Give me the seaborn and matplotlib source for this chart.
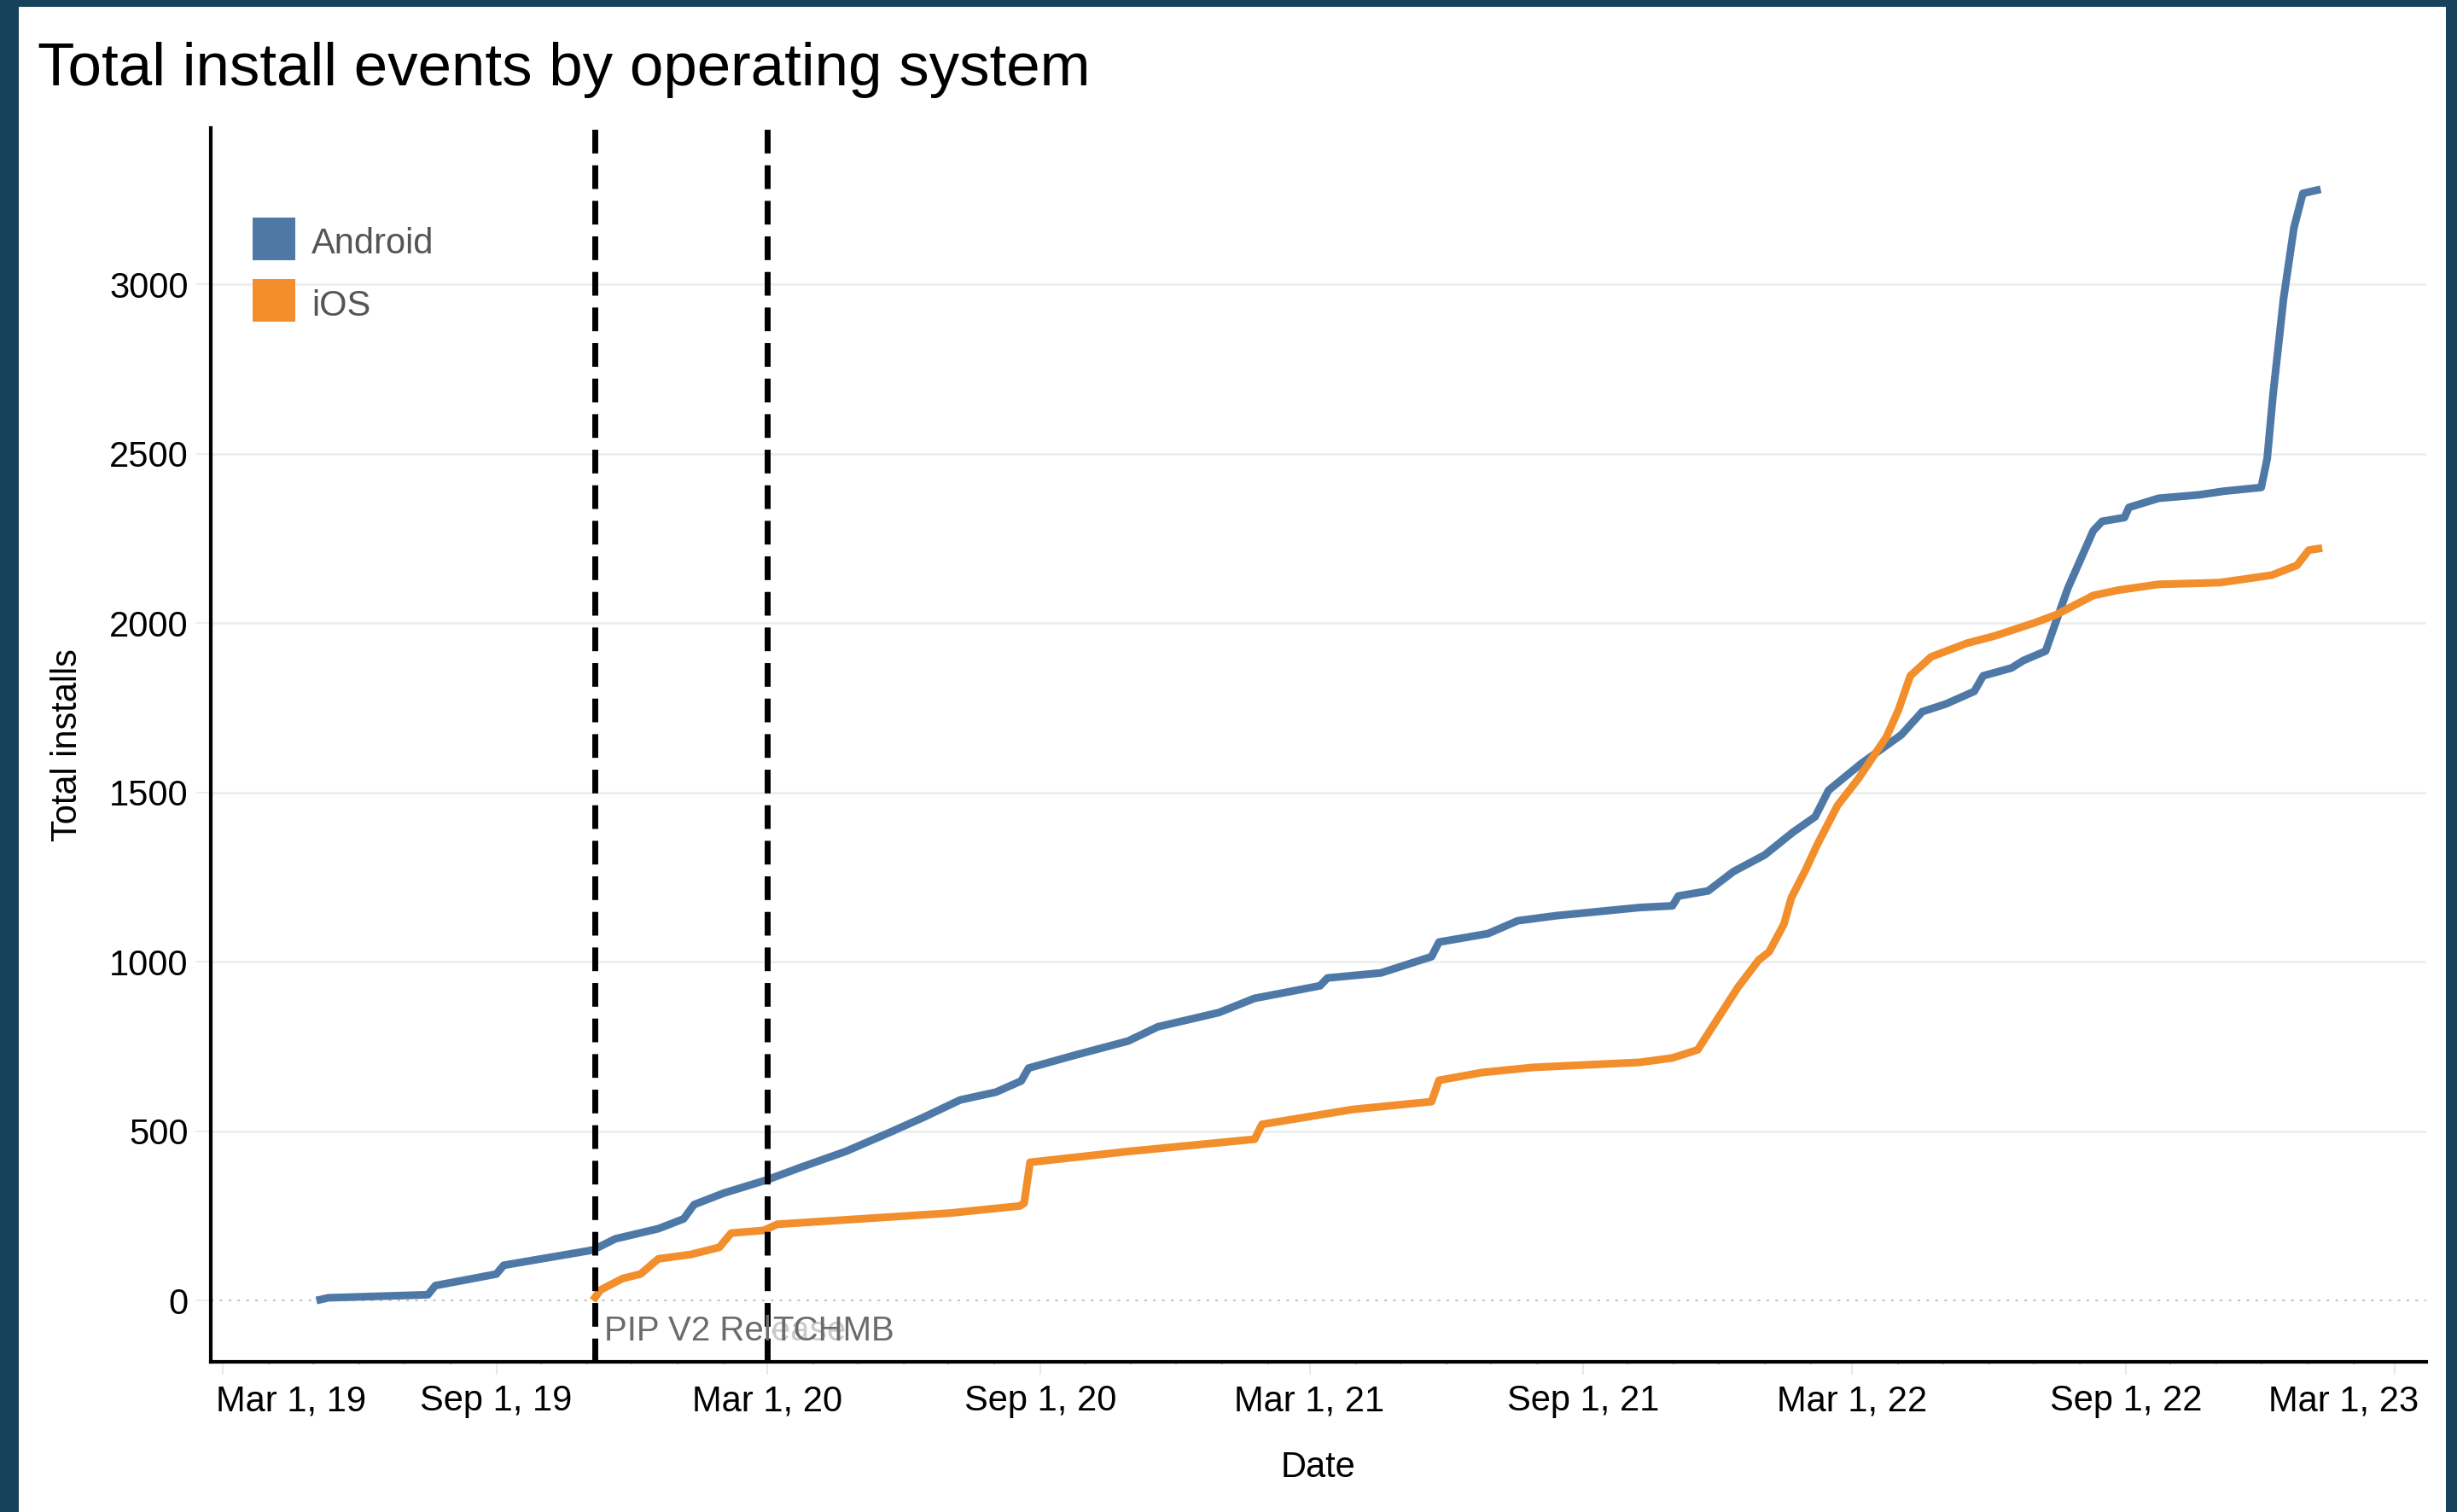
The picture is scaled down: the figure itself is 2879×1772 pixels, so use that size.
import pandas as pd
import seaborn as sns
import matplotlib.pyplot as plt
import matplotlib.dates as mdates
from matplotlib.patches import Patch, Rectangle
from matplotlib.ticker import FuncFormatter
from matplotlib.transforms import ScaledTranslation

# values
android_dates = ['2019-05-03', '2019-05-11', '2019-07-17', '2019-07-22', '2019-09-01', '2019-09-06',
                 '2019-11-05', '2019-11-20', '2019-12-19', '2020-01-05', '2020-01-12', '2020-02-01',
                 '2020-03-01', '2020-03-25', '2020-04-23', '2020-05-22', '2020-06-14', '2020-07-09',
                 '2020-08-02', '2020-08-19', '2020-08-24', '2020-09-24', '2020-10-30', '2020-11-19',
                 '2020-12-30', '2021-01-23', '2021-02-10', '2021-03-08', '2021-03-13', '2021-04-18',
                 '2021-05-22', '2021-05-27', '2021-06-29', '2021-07-19', '2021-08-14', '2021-10-09',
                 '2021-10-31', '2021-11-04', '2021-11-24', '2021-12-11', '2022-01-01', '2022-01-20',
                 '2022-02-04', '2022-02-13', '2022-03-07', '2022-04-03', '2022-04-17', '2022-05-03',
                 '2022-05-22', '2022-05-28', '2022-06-16', '2022-06-24', '2022-07-09', '2022-07-13',
                 '2022-07-24', '2022-08-10', '2022-08-16', '2022-08-31', '2022-09-03', '2022-09-23',
                 '2022-10-20', '2022-11-06', '2022-12-01', '2022-12-05', '2022-12-09', '2022-12-16',
                 '2022-12-23', '2022-12-29', '2023-01-10']
android_installs = [0, 8, 17, 44, 78, 104, 149, 182, 212, 241,
                    283, 317, 356, 395, 440, 495, 540, 592, 615, 648,
                    686, 724, 766, 808, 850, 892, 907, 929, 952, 967,
                    1015, 1058, 1083, 1121, 1136, 1160, 1165, 1194, 1209, 1266,
                    1315, 1382, 1428, 1506, 1585, 1670, 1738, 1761, 1798, 1844,
                    1867, 1889, 1917, 1967, 2103, 2272, 2300, 2311, 2341, 2368,
                    2378, 2389, 2400, 2485, 2676, 2957, 3167, 3268, 3280]

ios_dates = ['2019-11-05', '2019-11-10', '2019-11-25', '2019-12-07', '2019-12-19', '2020-01-10',
             '2020-01-29', '2020-02-06', '2020-02-28', '2020-03-08', '2020-07-02', '2020-08-18',
             '2020-08-21', '2020-08-25', '2020-10-30', '2021-01-23', '2021-01-28', '2021-03-30',
             '2021-05-22', '2021-05-27', '2021-06-25', '2021-07-29', '2021-10-09', '2021-10-31',
             '2021-11-17', '2021-11-29', '2021-12-14', '2021-12-28', '2022-01-04', '2022-01-14',
             '2022-01-19', '2022-01-29', '2022-02-05', '2022-02-19', '2022-03-05', '2022-03-24',
             '2022-04-01', '2022-04-09', '2022-04-23', '2022-05-17', '2022-06-05', '2022-07-02',
             '2022-07-16', '2022-08-10', '2022-08-27', '2022-09-23', '2022-11-03', '2022-12-08',
             '2022-12-25', '2023-01-02', '2023-01-11']
ios_installs = [0, 31, 65, 78, 123, 136, 157, 199, 207, 225,
                258, 279, 287, 408, 440, 476, 520, 564, 587, 650,
                673, 688, 703, 716, 740, 822, 924, 1005, 1029, 1111,
                1189, 1275, 1342, 1461, 1540, 1664, 1743, 1844, 1900, 1940,
                1962, 2001, 2024, 2081, 2097, 2114, 2119, 2141, 2170, 2215,
                2221]

release_dates = ['2019-11-06', '2020-03-01']
release_labels = ['PIP V2 Release', 'TCHMB']

os_names = ['Android', 'iOS']
os_colors = {'Android': '#4e79a7', 'iOS': '#f28e2b'}

df = pd.concat([
    pd.DataFrame({'date': pd.to_datetime(android_dates), 'installs': android_installs, 'os': 'Android'}),
    pd.DataFrame({'date': pd.to_datetime(ios_dates), 'installs': ios_installs, 'os': 'iOS'}),
])

sns.set_style('white')
plt.rcParams['font.family'] = ['Liberation Sans', 'DejaVu Sans']

W, H = 2879, 1772
fig = plt.figure(figsize=(W / 100, H / 100), dpi=100)
fig.patch.set_facecolor('#17425b')
# white card inside the dark frame
fig.add_artist(Rectangle((22 / W, 0), (2866 - 22) / W, 1 - 8 / H, transform=fig.transFigure,
                         facecolor='white', edgecolor='none', zorder=-5))

ax = fig.add_axes([247 / W, 1 - 1596 / H, (2843 - 247) / W, (1596 - 150) / H])
ax.set_facecolor('white')

sns.lineplot(data=df, x='date', y='installs', hue='os', palette=os_colors,
             estimator=None, linewidth=6.5, legend=False, ax=ax, zorder=3)
for ln in ax.get_lines():
    ln.set_solid_joinstyle('round')
    ln.set_solid_capstyle('butt')

ax.set_xlim(pd.Timestamp('2019-02-21'), pd.Timestamp('2023-03-22'))
ax.set_ylim(-181, 3461)

# y axis
ax.set_yticks(range(0, 3001, 500))
ax.yaxis.grid(True, color='#eeeeee', linewidth=2)
ax.get_ygridlines()[0].set_visible(False)
ax.axhline(0, color='#c4c4c4', linewidth=1.5, linestyle=(0, (1.5, 3.5)), zorder=1)

# x axis
ax.xaxis.set_major_locator(mdates.MonthLocator(bymonth=[3, 9], bymonthday=1))
ax.xaxis.set_minor_locator(mdates.MonthLocator())
ax.xaxis.set_major_formatter(FuncFormatter(
    lambda v, pos: '{:%b} {}, {:%y}'.format(mdates.num2date(v), mdates.num2date(v).day, mdates.num2date(v))))

ax.tick_params(axis='x', which='major', length=11, width=1.5, color='#e8e8e8',
               labelsize=30, pad=8, labelcolor='black', direction='out', bottom=True)
ax.tick_params(axis='x', which='minor', length=3, width=1.5, color='#e0e0e0', bottom=True)
ax.tick_params(axis='y', length=13, width=1.5, color='#eeeeee', labelsize=30, pad=6,
               labelcolor='black', left=True)

for side in ['top', 'right']:
    ax.spines[side].set_visible(False)
for side in ['left', 'bottom']:
    ax.spines[side].set_color('black')
    ax.spines[side].set_linewidth(3)

ax.set_xlabel('Date', fontsize=30, color='black')
ax.set_ylabel('Total installs', fontsize=30, color='black')
ax.xaxis.set_label_coords(0.5, -0.072)
ax.yaxis.set_label_coords(-0.057, 0.5)

# keep first and last date labels inside the pane
fig.canvas.draw()
xlabels = [t for t in ax.get_xticklabels() if t.get_text()]
xlabels[0].set_ha('left')
xlabels[0].set_transform(xlabels[0].get_transform() + ScaledTranslation(-8 / 100, 0, fig.dpi_scale_trans))
xlabels[-1].set_ha('right')
xlabels[-1].set_transform(xlabels[-1].get_transform() + ScaledTranslation(28 / 100, 0, fig.dpi_scale_trans))

# release reference lines (labels overlap in the original, kept that way)
for i, (d, lab) in enumerate(zip(release_dates, release_labels)):
    ax.axvline(pd.Timestamp(d), color='black', linewidth=5, linestyle=(0, (4, 2)), zorder=4)
    box = None if i == 0 else dict(facecolor='white', alpha=0.65, edgecolor='none', pad=0)
    ax.annotate(lab, xy=(pd.Timestamp(d), -91), xytext=(8 if i == 0 else 5, 0),
                textcoords='offset points', ha='left', va='center', fontsize=29,
                color='#6b6b6b', bbox=box, zorder=5)

# legend: 50 px squares (36 pt at 100 dpi)
handles = [Patch(facecolor=os_colors[n], edgecolor='none', label=n) for n in os_names]
leg = ax.legend(handles=handles, loc='upper left', bbox_to_anchor=(296 / W, 1 - 262 / H),
                bbox_transform=fig.transFigure, frameon=False, fontsize=30,
                handlelength=1.2, handleheight=1.2, handletextpad=0.45,
                labelspacing=0.68, borderpad=0, borderaxespad=0)
for t in leg.get_texts():
    t.set_color('#555555')
for p in leg.get_patches():
    p.set_height(36)
    p.set_width(36)

fig.text(44 / W, 1 - 100 / H, 'Total install events by operating system',
         fontsize=51, color='black', va='baseline', ha='left')

fig.savefig('out.png', dpi=100)
